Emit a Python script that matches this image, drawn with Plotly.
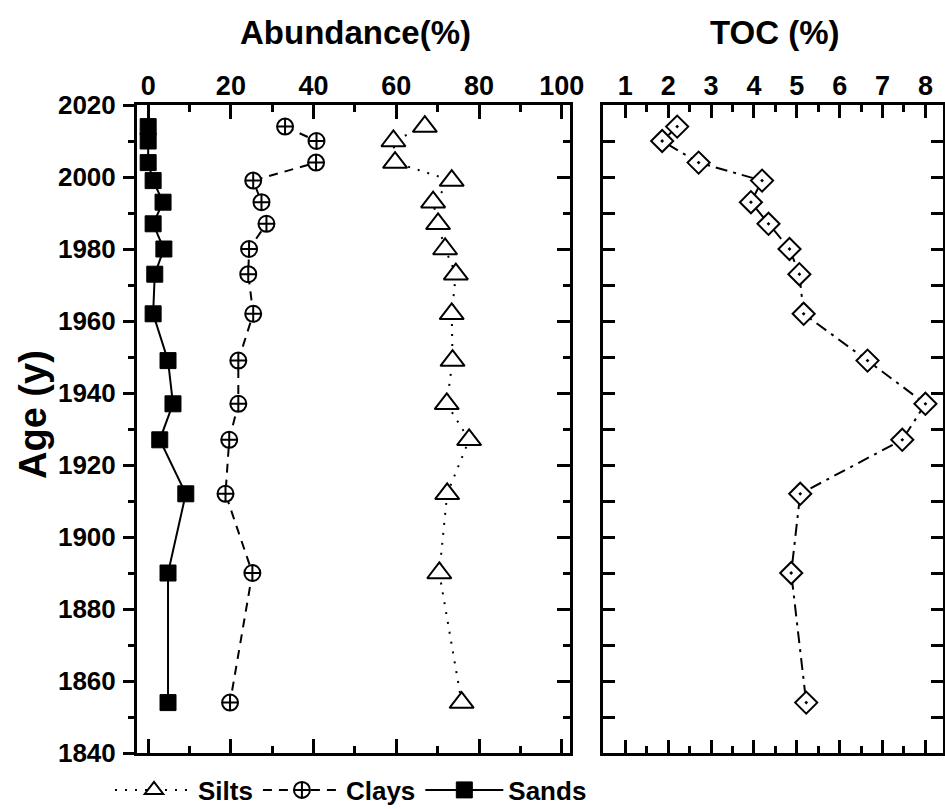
import plotly.graph_objects as go

# ---- data ----
years = [2014, 2010, 2004, 1999, 1993, 1987, 1980, 1973, 1962, 1949, 1937, 1927, 1912, 1890, 1854]
silts = [66.9, 59.3, 59.7, 73.4, 68.9, 70.1, 71.8, 74.4, 73.4, 73.6, 72.2, 77.6, 72.3, 70.4, 75.8]
clays = [33.1, 40.7, 40.6, 25.4, 27.4, 28.6, 24.4, 24.2, 25.4, 21.8, 21.8, 19.6, 18.7, 25.2, 19.8]
sands = [0.0, 0.0, 0.0, 1.2, 3.6, 1.2, 3.8, 1.6, 1.2, 4.8, 6.0, 2.8, 9.1, 4.8, 4.8]
toc = [2.21, 1.86, 2.71, 4.19, 3.93, 4.34, 4.83, 5.06, 5.16, 6.65, 8.0, 7.46, 5.08, 4.87, 5.22]

FONT = "Liberation Sans, Arial, Helvetica, sans-serif"
BLACK = "black"

W, H = 945, 809
# plot-area edges in pixels
X_LEFT, X_MID1, X_MID2, X_RIGHT = 137, 570, 603, 943
Y_TOP, Y_BOT = 105, 753
L, T = X_LEFT, Y_TOP
R = W - X_RIGHT
B = H - Y_BOT
PW, PH = W - L - R, H - T - B


def px_x(px):
    return (px - L) / PW


def px_y(py):
    return 1 - (py - T) / PH


fig = go.Figure()

fig.add_trace(go.Scatter(
    x=silts, y=years, name="Silts", mode="lines+markers", xaxis="x", yaxis="y",
    line=dict(color=BLACK, width=2, dash="2px,8px"),
    marker=dict(symbol="triangle-up", size=21, color="white", line=dict(color=BLACK, width=2)),
))
fig.add_trace(go.Scatter(
    x=clays, y=years, name="Clays", mode="lines+markers", xaxis="x", yaxis="y",
    line=dict(color=BLACK, width=2, dash="9px,7px"),
    marker=dict(symbol="circle-cross", size=16, color="white", line=dict(color=BLACK, width=2)),
))
fig.add_trace(go.Scatter(
    x=sands, y=years, name="Sands", mode="lines+markers", xaxis="x", yaxis="y",
    line=dict(color=BLACK, width=2),
    marker=dict(symbol="square", size=16, color=BLACK, line=dict(color=BLACK, width=1)),
))
fig.add_trace(go.Scatter(
    x=toc, y=years, name="TOC", mode="lines+markers", xaxis="x2", yaxis="y2",
    showlegend=False,
    line=dict(color=BLACK, width=2, dash="12px,6px,3px,6px"),
    marker=dict(symbol="diamond-dot", size=17, color="white", line=dict(color=BLACK, width=2)),
))
# empty helper trace so the inward right-hand tick axis of the left panel is drawn
fig.add_trace(go.Scatter(x=[], y=[], xaxis="x", yaxis="y3", showlegend=False, hoverinfo="skip"))

xtickfont = dict(family=FONT, size=27, color=BLACK, weight="bold")
ytickfont = dict(family=FONT, size=26, color=BLACK, weight="bold")
yrange = [1840, 2020]

common_x = dict(showgrid=False, zeroline=False, showline=True, linewidth=3, linecolor=BLACK,
                ticks="inside", tickwidth=3, tickcolor=BLACK, mirror="ticks", side="top",
                tickfont=xtickfont, automargin=False, ticklabelstandoff=-4)

fig.update_layout(
    width=W, height=H,
    margin=dict(l=L, r=R, t=T, b=B, autoexpand=False),
    paper_bgcolor="white", plot_bgcolor="white",
    xaxis=dict(domain=[0, px_x(X_MID1)], range=[-2.7, 102], anchor="y",
               tick0=0, dtick=20, ticklen=14,
               minor=dict(dtick=10, ticklen=7, tickwidth=3, ticks="inside", tickcolor=BLACK, showgrid=False),
               **common_x),
    xaxis2=dict(domain=[px_x(X_MID2), 1.0], range=[0.48, 8.41], anchor="y2",
                tick0=0, dtick=1, ticklen=13,
                minor=dict(dtick=0.5, ticklen=7, tickwidth=3, ticks="inside", tickcolor=BLACK, showgrid=False),
                **common_x),
    yaxis=dict(domain=[0, 1], range=yrange, anchor="x", showgrid=False, zeroline=False,
               showline=True, linewidth=3, linecolor=BLACK, mirror=True,
               ticks="outside", ticklen=11, tickwidth=3, tickcolor=BLACK, tick0=1840, dtick=20,
               minor=dict(dtick=10, ticklen=6, tickwidth=3, ticks="outside", tickcolor=BLACK, showgrid=False),
               tickfont=ytickfont, ticklabelstandoff=2, automargin=False),
    yaxis3=dict(overlaying="y", side="right", anchor="x", range=yrange, showgrid=False, zeroline=False,
                showline=False, ticks="inside", ticklen=13, tickwidth=3, tickcolor=BLACK, tick0=1840, dtick=20,
                minor=dict(dtick=10, ticklen=7, tickwidth=3, ticks="inside", tickcolor=BLACK, showgrid=False),
                showticklabels=False, automargin=False),
    yaxis2=dict(domain=[0, 1], range=yrange, anchor="x2", showgrid=False, zeroline=False,
                showline=True, linewidth=3, linecolor=BLACK, mirror="ticks",
                ticks="inside", ticklen=12, tickwidth=3, tickcolor=BLACK, tick0=1840, dtick=10,
                showticklabels=False, automargin=False),
    legend=dict(orientation="h", x=px_x(110), xanchor="left", y=px_y(790), yanchor="middle",
                font=dict(family=FONT, size=26, color=BLACK, weight="bold"),
                bgcolor="rgba(0,0,0,0)", itemwidth=78, tracegroupgap=0),
    showlegend=True,
)

fig.add_annotation(text="Abundance(%)", xref="paper", yref="paper", x=px_x(355), y=px_y(32),
                   xanchor="center", yanchor="middle",
                   showarrow=False, font=dict(family=FONT, size=33, color=BLACK, weight="bold"))
fig.add_annotation(text="TOC (%)", xref="paper", yref="paper", x=px_x(775), y=px_y(32),
                   xanchor="center", yanchor="middle",
                   showarrow=False, font=dict(family=FONT, size=33, color=BLACK, weight="bold"))
fig.add_annotation(text="Age (y)", xref="paper", yref="paper", x=px_x(33), y=px_y(415), textangle=-90,
                   xanchor="center", yanchor="middle",
                   showarrow=False, font=dict(family=FONT, size=38, color=BLACK, weight="bold"))

# remove the browser's default 8px body margin so the figure fills the window exactly
fig.write_html("out.html", config={"displayModeBar": False},
               post_script="document.body.style.margin='0px';document.body.style.overflow='hidden';")
